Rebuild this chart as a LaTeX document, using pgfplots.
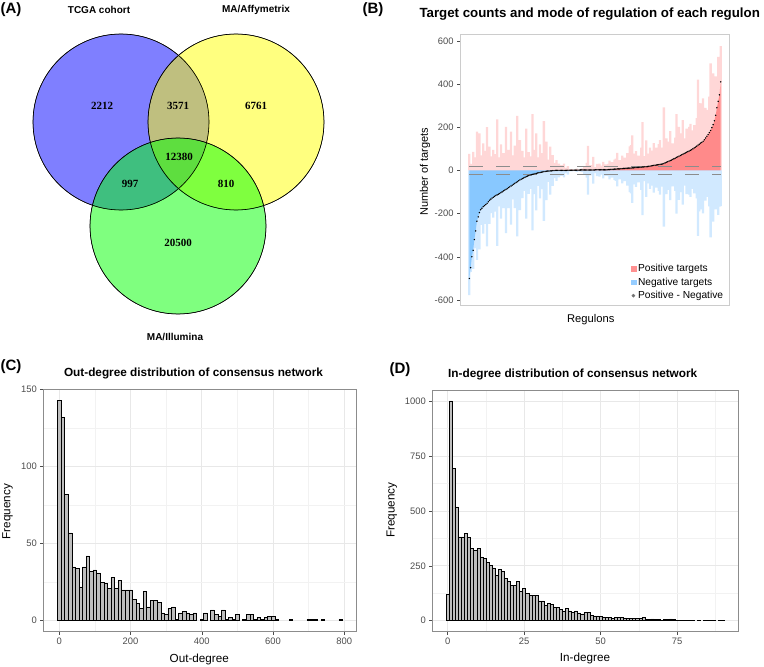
\documentclass[border=0pt]{standalone}
\usepackage{fontspec}
\setmainfont{Liberation Sans}
\newfontfamily\vennnum{Liberation Serif}
\usepackage{pgfplots}
\usepackage{pgfplotstable}
\pgfplotsset{compat=1.18}

\newcommand\fs[1]{\fontsize{#1}{#1}\selectfont}

\definecolor{vblue}{RGB}{0,0,255}
\definecolor{vyellow}{RGB}{255,255,0}
\definecolor{vgreen}{RGB}{0,255,0}
\definecolor{posc}{RGB}{255,110,110}
\definecolor{negc}{RGB}{90,175,255}
\definecolor{posdense}{RGB}{255,150,150}
\definecolor{negdense}{RGB}{155,210,255}
\definecolor{posleg}{RGB}{255,145,145}
\definecolor{negleg}{RGB}{150,205,255}
\definecolor{diffc}{RGB}{115,115,115}
\definecolor{histfill}{RGB}{190,190,190}

% regulon target counts, ordered by (positive - negative)
\pgfplotstableread{
i pos neg
1 77 577
2 20 470
3 30 430
4 86 456
5 40 360
6 60 340
7 179 414
8 45 260
9 171 366
10 70 252
11 35 210
12 125 293
13 55 218
14 90 248
15 200 352
16 40 185
17 110 248
18 65 198
19 30 158
20 95 219
21 50 170
22 75 191
23 236 349
24 45 155
25 60 167
26 120 223
27 35 134
28 80 175
29 55 146
30 202 290
31 40 124
32 95 175
33 60 136
34 179 251
35 30 98
36 70 134
37 115 175
38 45 101
39 253 305
40 55 103
41 140 184
42 35 76
43 90 128
44 60 95
45 40 72
46 194 223
47 50 76
48 85 109
49 30 52
50 65 85
51 260 278
52 40 57
53 95 110
54 171 185
55 35 47
56 60 71
57 120 130
58 45 53
59 80 87
60 228 234
61 30 35
62 133 137
63 50 53
64 40 43
65 110 112
66 25 27
67 71 72
68 35 36
69 32 32
70 48 48
71 20 20
72 32 32
73 15 15
74 25 25
75 10 10
76 32 32
77 8 8
78 12 12
79 20 19
80 5 4
81 3 2
82 6 5
83 2 1
84 4 3
85 3 2
86 8 7
87 2 1
88 5 4
89 3 1
90 10 8
91 4 2
92 20 18
93 6 4
94 35 33
95 114 112
96 8 6
97 25 23
98 12 10
99 63 61
100 15 13
101 10 7
102 30 27
103 18 15
104 32 29
105 8 5
106 22 19
107 40 37
108 15 12
109 28 25
110 12 9
111 30 26
112 45 41
113 20 15
114 38 33
115 25 20
116 50 44
117 55 49
118 81 74
119 47 40
120 48 41
121 33 25
122 68 60
123 44 35
124 59 50
125 40 30
126 80 70
127 56 45
128 111 100
129 117 106
130 162 150
131 52 40
132 78 65
133 89 76
134 44 30
135 69 55
136 60 45
137 105 90
138 223 207
139 66 50
140 52 35
141 139 122
142 78 60
143 59 40
144 105 85
145 76 55
146 92 70
147 126 103
148 69 45
149 105 80
150 86 60
151 122 95
152 140 112
153 79 50
154 105 75
155 292 260
156 100 65
157 148 110
158 95 55
159 133 90
160 182 137
161 108 60
162 125 74
163 99 45
164 152 95
165 260 200
166 143 80
167 202 136
168 124 55
169 172 100
170 233 158
171 148 70
172 126 45
173 194 110
174 147 60
175 202 112
176 215 122
177 146 50
178 185 85
179 210 106
180 178 70
181 242 130
182 420 303
183 311 190
184 216 90
185 310 180
186 334 199
187 217 75
188 290 140
189 280 122
190 226 60
191 341 166
192 495 310
193 293 95
194 449 237
195 360 130
196 435 180
197 400 110
198 526 206
199 518 168
200 575 165
}\regtab

% out-degree histogram (bin width 10)
\pgfplotstableread{
x n
0 143
10 132
20 82
30 57
40 35
50 34
60 22
70 35
80 42
90 32
100 33
110 31
120 25
130 24
140 21
150 28
160 21
170 26
180 20
190 20
200 20
210 14
220 11
230 8
240 19
250 9
260 13
270 13
280 12
290 5
300 4
310 8
320 9
330 1
340 5
350 6
360 5
370 4
380 5
400 1
410 5
430 7
440 4
450 3
460 7
470 1
480 2
490 1
500 4
520 1
530 4
540 4
550 1
560 2
570 1
580 2
590 3
600 3
610 1
650 1
700 1
710 1
720 1
740 1
790 1
}\outtab

% in-degree histogram (bin width 1)
\pgfplotstableread{
x n
0 120
1 1000
2 695
3 518
4 382
5 382
6 396
7 380
8 329
9 320
10 329
11 291
12 285
13 265
14 253
15 240
16 208
17 234
18 226
19 192
20 178
21 161
22 161
23 180
24 132
25 147
26 124
27 114
28 114
29 114
30 90
31 90
32 71
33 79
34 74
35 62
36 62
37 52
38 43
39 55
40 45
41 38
42 45
43 36
44 31
45 38
46 38
47 25
48 22
49 22
50 20
51 18
52 15
53 14
54 12
55 15
56 14
57 14
58 13
59 9
60 9
61 11
62 10
63 9
64 15
65 6
66 6
67 8
68 7
69 5
70 4
71 6
72 6
73 8
74 5
75 3
76 3
77 2
78 2
79 3
80 2
82 2
84 2
85 2
86 2
87 1
89 1
90 1
}\intab

\pgfplotsset{
  histaxis/.style={
    scale only axis, anchor=south west,
    grid=both,
    major grid style={black!9, line width=0.6bp},
    minor grid style={black!5, line width=0.4bp},
    minor tick length=0pt,
    tick pos=left, tick align=outside,
    major tick length=3bp,
    tick style={black!70, line width=0.5bp},
    axis line style={black!45, line width=0.6bp},
    ticklabel style={font=\fs{9.4bp}, text=black!70},
    /pgf/number format/assume math mode=true,
    /pgf/number format/1000 sep={},
  },
  histbars/.style={ybar, bar shift=0pt, fill=histfill, draw=black, line width=0.5bp},
}

\begin{document}
\begin{tikzpicture}
\useasboundingbox (0bp,0bp) rectangle (764bp,-667bp);

% ---------------- (A) Venn diagram ----------------
\begin{axis}[at={(0bp,0bp)}, anchor=north west, scale only axis,
  width=380bp, height=330bp, xmin=0, xmax=380, ymin=-330, ymax=0,
  hide axis, clip=false]
\addplot[only marks, mark=*, mark size=88bp,
  mark options={fill=vblue, fill opacity=0.5, draw=none}] coordinates {(121,-122)};
\addplot[only marks, mark=*, mark size=88bp,
  mark options={fill=vyellow, fill opacity=0.5, draw=none}] coordinates {(236,-122)};
\addplot[only marks, mark=*, mark size=88bp,
  mark options={fill=vgreen, fill opacity=0.5, draw=none}] coordinates {(178,-226)};
\addplot[only marks, mark=o, mark size=88bp,
  mark options={draw=black, line width=0.6bp, fill opacity=1}] coordinates {(121,-122) (236,-122) (178,-226)};
\end{axis}
\begin{scope}[every node/.style={font=\vennnum\bfseries\fs{11bp}, text=black, text opacity=1, fill opacity=1}]
\node at (102bp,-106bp) {2212};
\node at (178bp,-106bp) {3571};
\node at (256bp,-106bp) {6761};
\node at (179bp,-157bp) {12380};
\node at (130bp,-184bp) {997};
\node at (226bp,-184bp) {810};
\node at (178bp,-243bp) {20500};
\end{scope}
\node[font=\bfseries\fs{10bp}] at (99bp,-10bp) {TCGA cohort};
\node[font=\bfseries\fs{10bp}] at (256bp,-10bp) {MA/Affymetrix};
\node[font=\bfseries\fs{10bp}] at (175bp,-337bp) {MA/Illumina};
\node[font=\bfseries\fs{15bp}] at (11bp,-10bp) {(A)};

% ---------------- (B) regulon target counts ----------------
\begin{axis}[at={(460bp,-305bp)}, anchor=south west, scale only axis,
  width=269.3bp, height=270.7bp,
  xmin=-6.4, xmax=206.8, ymin=-623, ymax=630,
  xtick=\empty, ytick={-600,-400,...,600},
  ytick pos=left, tick align=outside, major tick length=3bp,
  tick style={black!70, line width=0.5bp},
  axis line style={black!20, line width=0.6bp},
  yticklabel style={font=\fs{9.4bp}, text=black!70},
  /pgf/number format/assume math mode=true,
  legend style={draw=none, fill=none, at={(0.985,0.01)}, anchor=south east,
    font=\fs{10.2bp}, row sep=0.5bp, inner sep=0pt},
  legend cell align=left]
% area between zero and the difference curve
\addplot[fill=posdense, draw=none, forget plot]
  table[x=i, y expr={max(\thisrow{pos}-\thisrow{neg},0)}] {\regtab} \closedcycle;
\addplot[fill=negdense, draw=none, forget plot]
  table[x=i, y expr={min(\thisrow{pos}-\thisrow{neg},0)}] {\regtab} \closedcycle;
% positive and negative target counts
\addplot[ybar, bar shift=0pt, bar width=1.8, fill=posc, fill opacity=0.28, draw=none, forget plot]
  table[x=i, y=pos] {\regtab};
\addplot[ybar, bar shift=0pt, bar width=1.8, fill=negc, fill opacity=0.28, draw=none, forget plot]
  table[x=i, y expr=-\thisrow{neg}] {\regtab};
\addplot[black!45, line width=0.6bp, dash pattern=on 14bp off 13bp, forget plot]
  coordinates {(1,17) (200,17)};
\addplot[black!45, line width=0.6bp, dash pattern=on 14bp off 13bp, forget plot]
  coordinates {(1,-17) (200,-17)};
\addplot[only marks, mark=*, mark size=0.5bp, mark options={draw=none, fill=diffc}, forget plot]
  table[x=i, y expr=\thisrow{pos}-\thisrow{neg}] {\regtab};
\addlegendimage{legend image code/.code={\fill[posleg] (0bp,-2.4bp) rectangle (4.8bp,2.4bp);}}
\addlegendentry{Positive targets}
\addlegendimage{legend image code/.code={\fill[negleg] (0bp,-2.4bp) rectangle (4.8bp,2.4bp);}}
\addlegendentry{Negative targets}
\addlegendimage{legend image code/.code={\fill[diffc] (2.4bp,0bp) circle[radius=1.6bp];}}
\addlegendentry{Positive - Negative}
\end{axis}
\node[font=\bfseries\fs{15bp}] at (373bp,-10bp) {(B)};
\node[font=\bfseries\fs{13.3bp}] at (589.7bp,-14bp) {Target counts and mode of regulation of each regulon};
\node[font=\fs{11bp}, rotate=90] at (425bp,-171.7bp) {Number of targets};
\node[font=\fs{11.2bp}] at (590.7bp,-320bp) {Regulons};

% ---------------- (C) out-degree distribution ----------------
\begin{axis}[histaxis, at={(43.3bp,-631.7bp)},
  width=313.4bp, height=242.4bp,
  xmin=-45, xmax=835, ymin=-7.15, ymax=150.15,
  xtick={0,200,...,800}, minor xtick={100,300,500,700},
  ytick={0,50,100,150}, minor ytick={25,75,125}]
\addplot[histbars, bar width=10] table[x=x, y=n] {\outtab};
\end{axis}
\node[font=\bfseries\fs{15bp}] at (11bp,-367bp) {(C)};
\node[font=\bfseries\fs{11.8bp}] at (193.5bp,-373.3bp) {Out-degree distribution of consensus network};
\node[font=\fs{11.7bp}, rotate=90] at (7.5bp,-511.7bp) {Frequency};
\node[font=\fs{11.7bp}] at (199.3bp,-659.3bp) {Out-degree};

% ---------------- (D) in-degree distribution ----------------
\begin{axis}[histaxis, at={(432.3bp,-631.7bp)},
  width=306bp, height=241.7bp,
  xmin=-5.05, xmax=95.05, ymin=-50, ymax=1050,
  xtick={0,25,50,75}, minor xtick={12.5,37.5,62.5,87.5},
  ytick={0,250,500,750,1000}, minor ytick={125,375,625,875}]
\addplot[histbars, bar width=1] table[x=x, y=n] {\intab};
\end{axis}
\node[font=\bfseries\fs{15bp}] at (400bp,-370bp) {(D)};
\node[font=\bfseries\fs{11.8bp}] at (572.7bp,-374.3bp) {In-degree distribution of consensus network};
\node[font=\fs{11.7bp}, rotate=90] at (391.7bp,-510bp) {Frequency};
\node[font=\fs{11.7bp}] at (585bp,-658.3bp) {In-degree};
\end{tikzpicture}
\end{document}
